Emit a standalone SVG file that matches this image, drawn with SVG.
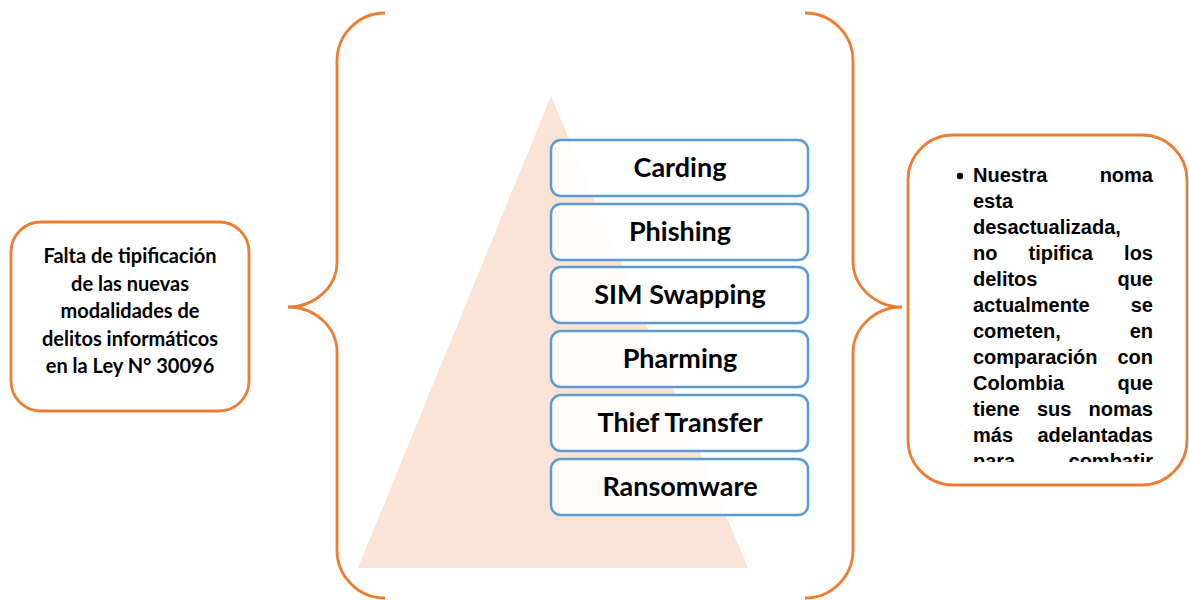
<svg xmlns="http://www.w3.org/2000/svg" width="1189" height="600" viewBox="0 0 1189 600">
  <defs>
    <style>
      .orange { fill: #ffffff; stroke: #ED7D31; stroke-width: 2.8; }
      .brace { fill: none; stroke: #ED7D31; stroke-width: 2.8; }
      .item { fill: #ffffff; fill-opacity: 0.9; stroke: #5B9BD5; stroke-width: 2.5; }
      .lbl { font-family: Lato, "Open Sans", sans-serif; font-weight: 700; font-size: 27px; fill: #000; text-anchor: middle; }
      .side { font-family: Lato, "Open Sans", sans-serif; font-weight: 700; font-size: 20px; fill: #000; text-anchor: middle; }
      .note { font-family: "Liberation Sans", Arial, sans-serif; font-weight: 700; font-size: 20px; fill: #000; }
      .end { text-anchor: end; }
    </style>
    <clipPath id="noteClip">
      <rect x="910" y="137" width="275" height="325"/>
    </clipPath>
  </defs>

  <rect width="1189" height="600" fill="#ffffff"/>

  <!-- background triangle -->
  <polygon points="551,96 748,568 358,568" fill="#FBE4D5"/>

  <!-- braces -->
  <g id="connectors">
    <path class="brace" d="M385,13 A48,48 0 0 0 337,61 L337,262 A49,45 0 0 1 288,307 A49,45 0 0 1 337,352 L337,550 A48,48 0 0 0 385,598"/>
    <path class="brace" d="M805,13 A48,48 0 0 1 853,61 L853,261 A49,46 0 0 0 902,307 A49,46 0 0 0 853,353 L853,550 A48,48 0 0 1 805,598"/>
  </g>

  <!-- left node -->
  <g id="problema">
    <rect class="orange" x="11" y="222" width="238" height="189" rx="30"/>
    <text class="side" x="130" y="263">Falta de tipificación</text>
    <text class="side" x="130" y="290.5">de las nuevas</text>
    <text class="side" x="130" y="318">modalidades de</text>
    <text class="side" x="130" y="345.5">delitos informáticos</text>
    <text class="side" x="130" y="373">en la Ley N° 30096</text>
  </g>

  <!-- stacked items -->
  <g id="carding">
    <rect class="item" x="551" y="140" width="257" height="56" rx="10"/>
    <text class="lbl" x="680" y="177">Carding</text>
  </g>
  <g id="phishing">
    <rect class="item" x="551" y="204" width="257" height="56" rx="10"/>
    <text class="lbl" x="680" y="241">Phishing</text>
  </g>
  <g id="sim-swapping">
    <rect class="item" x="551" y="267" width="257" height="56" rx="10"/>
    <text class="lbl" x="680" y="304">SIM Swapping</text>
  </g>
  <g id="pharming">
    <rect class="item" x="551" y="331" width="257" height="56" rx="10"/>
    <text class="lbl" x="680" y="368">Pharming</text>
  </g>
  <g id="thief-transfer">
    <rect class="item" x="551" y="395" width="257" height="56" rx="10"/>
    <text class="lbl" x="680" y="432">Thief Transfer</text>
  </g>
  <g id="ransomware">
    <rect class="item" x="551" y="459" width="257" height="56" rx="10"/>
    <text class="lbl" x="680" y="496">Ransomware</text>
  </g>

  <!-- right node: justified bullet text -->
  <g id="conclusion">
    <rect class="orange" x="908" y="135" width="279" height="350" rx="45"/>
    <circle cx="960" cy="176" r="3.2" fill="#000"/>
    <g clip-path="url(#noteClip)">
      <text class="note" x="973" y="182">Nuestra</text>
      <text class="note end" x="1153" y="182">noma</text>
      <text class="note" x="973" y="208">esta</text>
      <text class="note" x="973" y="234">desactualizada,</text>
      <text class="note" x="973" y="260">no</text>
      <text class="note" x="1028.5" y="260">tipifica</text>
      <text class="note end" x="1153" y="260">los</text>
      <text class="note" x="973" y="286">delitos</text>
      <text class="note end" x="1153" y="286">que</text>
      <text class="note" x="973" y="312">actualmente</text>
      <text class="note end" x="1153" y="312">se</text>
      <text class="note" x="973" y="338">cometen,</text>
      <text class="note end" x="1153" y="338">en</text>
      <text class="note" x="973" y="364">comparación</text>
      <text class="note end" x="1153" y="364">con</text>
      <text class="note" x="973" y="390">Colombia</text>
      <text class="note end" x="1153" y="390">que</text>
      <text class="note" x="973" y="416">tiene</text>
      <text class="note" x="1037" y="416">sus</text>
      <text class="note end" x="1153" y="416">nomas</text>
      <text class="note" x="973" y="442">más</text>
      <text class="note end" x="1153" y="442">adelantadas</text>
      <text class="note" x="973" y="468">para</text>
      <text class="note end" x="1153" y="468">combatir</text>
    </g>
  </g>
</svg>
